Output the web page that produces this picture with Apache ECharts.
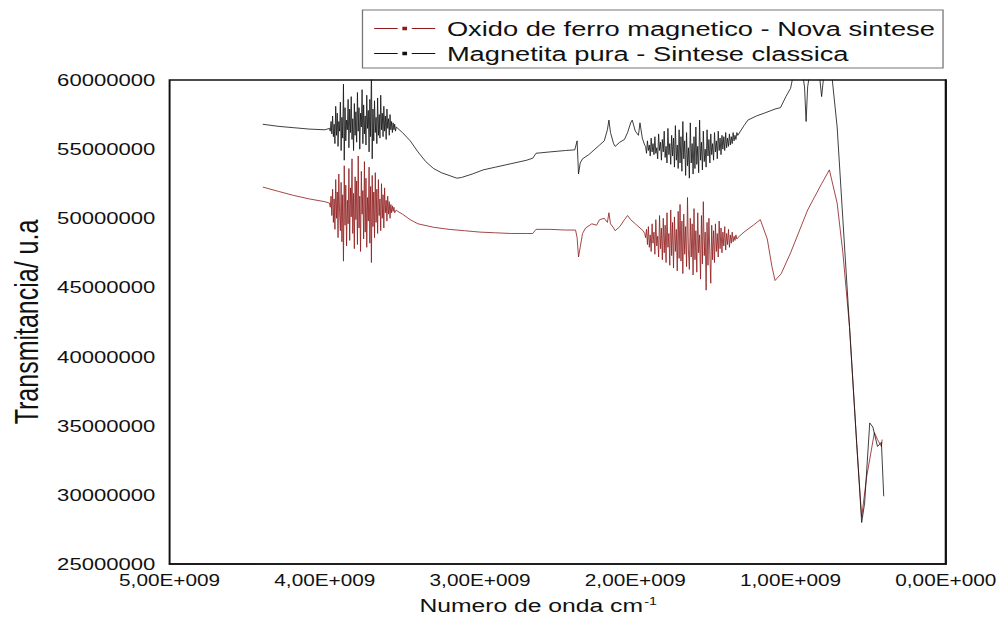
<!DOCTYPE html>
<html>
<head>
<meta charset="utf-8">
<script src="https://cdn.jsdelivr.net/npm/echarts@6/dist/echarts.min.js"></script>
<style>
html,body{margin:0;padding:0;background:#fff;overflow:hidden;}
#wrap{width:1003px;height:633px;overflow:hidden;}
#chart{width:772px;height:633px;transform:scaleX(1.2992);transform-origin:0 0;}
</style>
</head>
<body>
<div id="wrap"><div id="chart"></div></div>
<script>
// x: wavenumber in units of 1E+009 ; y: transmittance in units of 1E+006
const xTickLabels = ['0,00E+000','1,00E+009','2,00E+009','3,00E+009','4,00E+009','5,00E+009'];
const yTickLabels = ['25000000','30000000','35000000','40000000','45000000','50000000','55000000','60000000'];
const seriesNames = ['Oxido de ferro magnetico - Nova sintese','Magnetita pura - Sintese classica'];

const oxidoPoints = [
[4.40,52.26],[4.30,51.95],[4.20,51.65],[4.10,51.4],[4.00,51.2],[3.97,51.1],
[3.965,50.8],[3.960,51.6],[3.955,50.2],[3.950,52.1],[3.945,49.7],[3.940,51.4],[3.935,49.2],[3.930,52.8],
[3.925,50.0],[3.920,51.9],[3.915,48.6],[3.910,53.2],[3.905,50.4],[3.900,49.1],[3.895,52.6],[3.890,48.3],
[3.885,51.7],[3.880,46.9],[3.875,53.8],[3.870,49.5],[3.865,52.4],[3.860,48.0],[3.855,51.3],[3.850,49.6],
[3.845,53.6],[3.840,48.4],[3.835,52.2],[3.830,50.1],[3.825,54.3],[3.820,48.9],[3.815,51.8],[3.810,47.8],
[3.805,53.0],[3.800,49.9],[3.795,52.7],[3.790,48.1],[3.785,54.5],[3.780,49.3],[3.775,51.6],[3.770,47.6],
[3.765,53.4],[3.760,50.3],[3.755,52.0],[3.750,48.5],[3.745,54.1],[3.740,49.0],[3.735,52.9],[3.730,47.9],
[3.725,51.5],[3.720,49.8],[3.715,53.7],[3.710,48.2],[3.705,52.3],[3.700,46.8],[3.695,53.1],[3.690,49.4],
[3.685,51.9],[3.680,48.6],[3.675,53.3],[3.670,49.7],[3.665,52.1],[3.660,48.9],[3.655,52.8],[3.650,50.2],
[3.645,51.4],[3.640,49.1],[3.635,52.5],[3.630,50.0],[3.625,51.7],[3.620,49.3],[3.615,52.2],[3.610,50.4],
[3.605,51.3],[3.600,49.8],[3.595,51.6],[3.590,50.3],[3.585,51.2],[3.580,50.0],[3.575,51.0],[3.570,50.4],
[3.565,50.9],[3.560,50.5],[3.555,50.8],[3.550,50.4],[3.540,50.6],[3.530,50.5],
[3.50,50.3],[3.45,49.9],[3.40,49.6],[3.30,49.35],[3.20,49.2],[3.10,49.1],[3.00,49.0],[2.90,48.95],
[2.80,48.9],[2.70,48.9],[2.66,48.9],[2.64,49.2],[2.55,49.2],[2.45,49.15],[2.385,49.15],[2.375,48.6],
[2.366,47.2],[2.355,47.9],[2.34,48.9],[2.32,49.3],[2.28,49.6],[2.25,49.5],[2.23,49.9],[2.20,50.0],
[2.18,49.7],[2.17,50.4],[2.16,49.6],[2.14,49.3],[2.13,49.1],[2.10,49.4],[2.07,49.9],[2.05,50.2],
[2.03,49.9],[2.00,49.6],[1.97,49.3],[1.95,49.1],[1.94,48.9],
[1.934,48.6],[1.928,49.2],[1.922,48.1],[1.916,49.4],[1.910,47.9],[1.904,48.8],[1.898,47.6],[1.892,49.6],
[1.886,48.2],[1.880,49.0],[1.874,47.4],[1.868,49.9],[1.862,48.0],[1.856,48.7],[1.850,47.2],[1.844,50.2],
[1.838,47.8],[1.832,49.3],[1.826,47.0],[1.820,50.0],[1.814,47.5],[1.808,49.5],[1.802,46.8],[1.796,50.4],
[1.790,47.9],[1.784,48.9],[1.778,46.6],[1.772,50.6],[1.766,47.3],[1.760,49.7],[1.754,46.4],[1.748,50.1],
[1.742,47.6],[1.736,49.2],[1.730,46.2],[1.724,50.5],[1.718,47.1],[1.712,51.0],[1.706,46.9],[1.700,49.8],
[1.694,46.0],[1.688,50.3],[1.682,47.4],[1.676,49.4],[1.670,46.5],[1.664,51.5],[1.658,47.7],[1.652,46.3],
[1.646,50.0],[1.640,47.2],[1.634,49.6],[1.628,45.9],[1.622,50.7],[1.616,47.0],[1.610,49.1],[1.604,46.1],
[1.598,50.4],[1.592,47.5],[1.586,48.8],[1.580,45.6],[1.574,50.2],[1.568,46.7],[1.562,51.2],[1.556,47.3],
[1.550,49.0],[1.544,44.8],[1.538,49.7],[1.532,46.6],[1.526,50.0],[1.520,47.4],[1.514,45.3],[1.508,49.5],
[1.502,47.0],[1.496,49.1],[1.490,46.8],[1.484,49.6],[1.478,47.6],[1.472,48.9],[1.466,47.2],[1.460,49.8],
[1.454,47.8],[1.448,49.3],[1.442,47.5],[1.436,49.0],[1.430,48.0],[1.424,49.4],[1.418,47.7],[1.412,48.9],
[1.406,48.1],[1.400,49.2],[1.394,47.9],[1.388,48.8],[1.382,48.2],[1.376,49.0],[1.370,48.3],[1.364,48.7],
[1.358,48.4],[1.352,48.8],[1.346,48.5],[1.340,48.6],
[1.30,49.0],[1.24,49.5],[1.195,49.9],[1.15,48.5],[1.12,46.5],[1.10,45.5],[1.06,46.0],
[1.00,47.5],[0.89,50.6],[0.80,52.5],[0.75,53.5],[0.70,51.1],[0.663,47.5],[0.62,42.1],[0.574,33.7],
[0.542,28.4],[0.51,31.3],[0.46,34.5],[0.44,34.0],[0.415,33.5],[0.41,34.0]
];

const magnetitaPoints = [
[4.40,56.8],[4.30,56.65],[4.20,56.55],[4.10,56.45],[4.00,56.4],[3.97,56.5],
[3.965,56.3],[3.960,57.0],[3.955,56.1],[3.950,57.4],[3.945,55.9],[3.940,56.8],[3.935,55.4],[3.930,58.1],
[3.925,56.0],[3.920,57.6],[3.915,55.2],[3.910,57.0],[3.905,56.3],[3.900,58.4],[3.895,54.9],[3.890,57.3],
[3.885,55.8],[3.880,59.7],[3.875,54.2],[3.870,58.0],[3.865,55.6],[3.860,57.1],[3.855,56.4],[3.850,58.6],
[3.845,55.1],[3.840,57.9],[3.835,56.2],[3.830,58.8],[3.825,55.7],[3.820,57.2],[3.815,54.9],[3.810,58.3],
[3.805,56.0],[3.800,57.7],[3.795,55.5],[3.790,59.1],[3.785,56.3],[3.780,58.0],[3.775,55.0],[3.770,57.6],
[3.765,56.6],[3.760,59.3],[3.755,55.4],[3.750,58.2],[3.745,56.1],[3.740,57.4],[3.735,55.3],[3.730,58.9],
[3.725,56.5],[3.720,57.8],[3.715,54.8],[3.710,58.6],[3.705,55.9],[3.700,60.8],[3.695,54.3],[3.690,57.9],
[3.685,55.6],[3.680,58.5],[3.675,56.2],[3.670,57.3],[3.665,55.4],[3.660,58.7],[3.655,56.0],[3.650,57.5],
[3.645,55.8],[3.640,58.9],[3.635,56.4],[3.630,57.6],[3.625,55.9],[3.620,58.1],[3.615,56.3],[3.610,57.4],
[3.605,55.7],[3.600,57.9],[3.595,56.5],[3.590,57.2],[3.585,56.0],[3.580,57.5],[3.575,56.4],[3.570,57.0],
[3.565,56.2],[3.560,56.9],[3.555,56.4],[3.550,56.8],[3.545,56.3],[3.540,56.6],[3.530,56.5],
[3.50,56.2],[3.45,55.6],[3.40,54.8],[3.35,54.1],[3.30,53.6],[3.25,53.3],[3.20,53.1],[3.15,52.9],
[3.12,52.95],[3.05,53.2],[2.98,53.5],[2.90,53.7],[2.80,53.95],[2.70,54.2],[2.66,54.35],[2.64,54.7],
[2.55,54.8],[2.45,54.9],[2.39,54.95],[2.375,55.6],[2.366,53.2],[2.355,54.0],[2.34,54.3],[2.30,54.6],
[2.26,55.0],[2.23,55.3],[2.20,55.6],[2.18,56.4],[2.17,57.1],[2.16,56.2],[2.14,55.4],[2.13,55.2],
[2.10,55.5],[2.07,55.7],[2.05,56.2],[2.03,56.9],[2.02,57.1],[2.00,56.3],[1.98,56.0],[1.97,56.9],
[1.955,55.8],[1.94,55.3],
[1.934,55.2],[1.928,54.7],[1.922,55.6],[1.916,54.9],[1.910,55.3],[1.904,54.5],[1.898,55.8],[1.892,54.8],
[1.886,55.4],[1.880,54.6],[1.874,55.9],[1.868,54.7],[1.862,55.1],[1.856,54.3],[1.850,56.1],[1.844,54.9],
[1.838,55.5],[1.832,54.2],[1.826,55.7],[1.820,54.8],[1.814,56.3],[1.808,54.4],[1.802,55.2],[1.796,54.0],
[1.790,56.5],[1.784,54.6],[1.778,55.4],[1.772,53.9],[1.766,56.0],[1.760,54.5],[1.754,55.8],[1.748,53.7],
[1.742,56.7],[1.736,54.2],[1.730,55.3],[1.724,53.6],[1.718,56.4],[1.712,54.0],[1.706,55.9],[1.700,53.4],
[1.694,57.0],[1.688,54.3],[1.682,55.6],[1.676,53.1],[1.670,56.2],[1.664,53.8],[1.658,55.1],[1.652,52.9],
[1.646,56.9],[1.640,54.0],[1.634,55.4],[1.628,53.2],[1.622,55.9],[1.616,53.6],[1.610,56.6],[1.604,53.9],
[1.598,55.2],[1.592,53.3],[1.586,57.1],[1.580,54.2],[1.574,55.5],[1.568,53.5],[1.562,56.3],[1.556,54.1],
[1.550,55.0],[1.544,53.7],[1.538,56.4],[1.532,54.5],[1.526,55.7],[1.520,54.0],[1.514,56.1],[1.508,54.6],
[1.502,55.4],[1.496,54.2],[1.490,56.2],[1.484,54.8],[1.478,55.6],[1.472,54.3],[1.466,56.3],[1.460,54.9],
[1.454,55.8],[1.448,54.6],[1.442,56.0],[1.436,55.0],[1.430,55.9],[1.424,54.9],[1.418,56.2],[1.412,55.1],
[1.406,55.8],[1.400,55.2],[1.394,56.1],[1.388,55.3],[1.382,55.9],[1.376,55.4],[1.370,56.2],[1.364,55.6],
[1.358,56.0],[1.352,55.7],[1.346,56.2],[1.340,56.0],
[1.30,56.7],[1.275,57.1],[1.22,57.4],[1.17,57.6],[1.10,57.9],[1.065,58.0],[1.03,58.8],[1.00,59.4],
[0.98,60.5],[0.93,61.0],[0.91,59.5],[0.90,57.0],[0.89,59.5],[0.87,61.0],[0.82,61.0],[0.80,58.8],
[0.78,61.0],[0.74,61.0],[0.733,60.2],[0.70,56.6],[0.663,49.9],[0.62,42.1],[0.574,33.7],[0.542,28.0],
[0.523,29.4],[0.49,35.2],[0.47,34.9],[0.44,33.5],[0.415,33.8],[0.40,29.9]
];

const oxidoColor = '#8e1b1b';
const magnetitaColor = '#111111';
const legendIcon = 'path://M0,5.5h20v1h-20z M24,4h4v4h-4z M32,5.5h20v1h-20z';
const fontFamily = '"Liberation Sans", Arial, sans-serif';

const chart = echarts.init(document.getElementById('chart'), null, {renderer: 'svg'});
chart.setOption({
  animation: false,
  backgroundColor: '#fff',
  textStyle: {fontFamily: fontFamily, color: '#111'},
  grid: {left: 125, right: 44, top: 80, bottom: 69, show: true, borderColor: '#111', borderWidth: 1.5, backgroundColor: 'transparent'},
  legend: {
    orient: 'vertical', left: 279, top: 10,
    padding: [8, 6, 4, 9], itemGap: 4, itemWidth: 47, itemHeight: 14,
    borderColor: '#777', borderWidth: 1, backgroundColor: '#fff',
    textStyle: {fontSize: 21, lineHeight: 21, color: '#111', fontFamily: fontFamily, padding: [0, 0, 0, 4]},
    data: [
      {name: seriesNames[0], icon: legendIcon},
      {name: seriesNames[1], icon: legendIcon}
    ]
  },
  xAxis: {
    type: 'value', min: 0, max: 5, interval: 1, inverse: true,
    axisLine: {show: true, lineStyle: {color: '#111', width: 1.5}},
    axisTick: {show: false}, splitLine: {show: false},
    axisLabel: {fontSize: 16, color: '#111', margin: 8, formatter: v => xTickLabels[Math.round(v)]},
    name: 'Numero de onda cm{sup|-1}', nameLocation: 'middle', nameGap: 32,
    nameTextStyle: {fontSize: 19, color: '#111', padding: [0, 30, 0, 0],
      rich: {sup: {fontSize: 11, verticalAlign: 'top', padding: [0, 0, 8, 1]}}}
  },
  yAxis: {
    type: 'value', min: 25, max: 60, interval: 5,
    axisLine: {show: true, lineStyle: {color: '#111', width: 1.5}},
    axisTick: {show: false}, splitLine: {show: false},
    axisLabel: {fontSize: 17, color: '#111', margin: 11, formatter: v => yTickLabels[Math.round((v - 25) / 5)]},
    name: 'Transmitancia/ u.a', nameLocation: 'middle', nameGap: 95,
    nameTextStyle: {fontSize: 25, color: '#111'}
  },
  series: [
    {name: seriesNames[0], type: 'line', data: oxidoPoints, showSymbol: false, symbol: 'none', clip: true,
     color: oxidoColor, lineStyle: {color: oxidoColor, width: 0.7}},
    {name: seriesNames[1], type: 'line', data: magnetitaPoints, showSymbol: false, symbol: 'none', clip: true,
     color: magnetitaColor, lineStyle: {color: magnetitaColor, width: 0.7}}
  ]
});
</script>
</body>
</html>
